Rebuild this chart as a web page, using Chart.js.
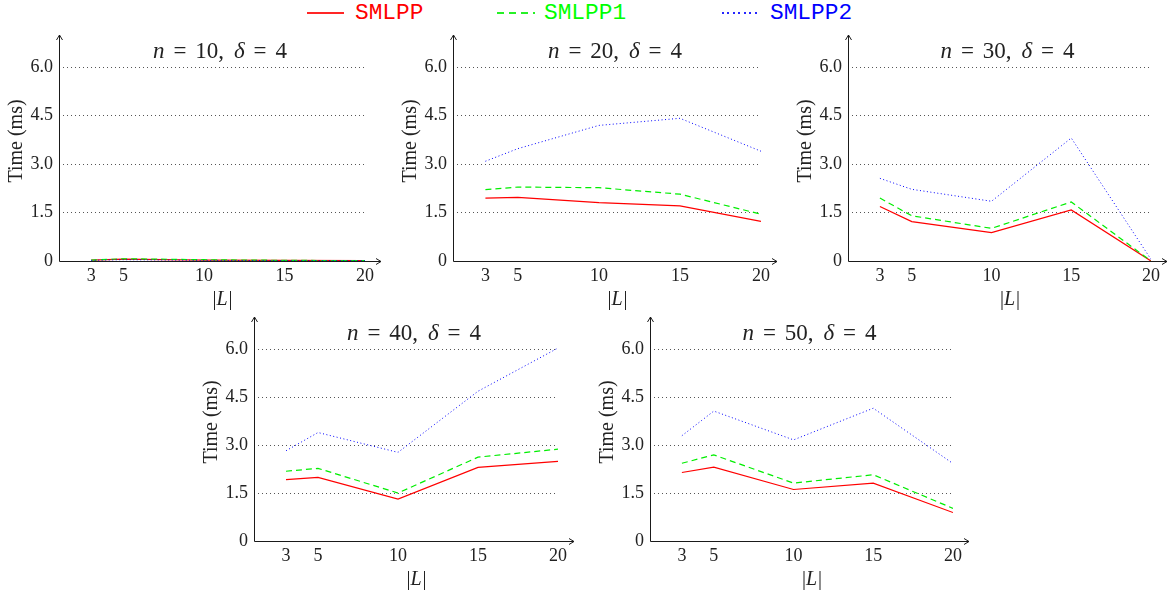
<!DOCTYPE html>
<html><head><meta charset="utf-8">
<script src="https://cdn.jsdelivr.net/npm/chart.js@4.4.0/dist/chart.umd.min.js"></script>
<style>
html,body{margin:0;padding:0;background:#fff;width:1172px;height:592px;overflow:hidden;position:relative;}
canvas.pc{position:absolute;left:0;top:0;}
.lt{position:absolute;top:0;font-family:"Liberation Mono",monospace;font-size:22.8px;line-height:27px;white-space:nowrap;}
.ls{position:absolute;top:12px;height:2px;opacity:0.85;}
</style></head><body>
<div id="legend"></div>
<canvas class="pc" id="c1" width="1172" height="592"></canvas>
<canvas class="pc" id="c2" width="1172" height="592"></canvas>
<canvas class="pc" id="c3" width="1172" height="592"></canvas>
<canvas class="pc" id="c4" width="1172" height="592"></canvas>
<canvas class="pc" id="c5" width="1172" height="592"></canvas>
<script>
// ---- data ----
const listSizes = [3, 5, 10, 15, 20];          // |L|
const nValues = [10, 20, 30, 40, 50];
const deltaValue = 4;
const seriesNames = ['SMLPP', 'SMLPP1', 'SMLPP2'];
const yTicks = [0, 1.5, 3, 4.5, 6];
const yTickLabels = ['0', '1.5', '3.0', '4.5', '6.0'];

const n10_SMLPP  = [0.03, 0.06, 0.03, 0.02, 0.01];
const n10_SMLPP1 = [0.03, 0.07, 0.04, 0.02, 0.01];
const n10_SMLPP2 = [0.02, 0.04, 0.02, 0.01, 0.01];

const n20_SMLPP  = [1.95, 1.97, 1.81, 1.71, 1.23];
const n20_SMLPP1 = [2.21, 2.29, 2.27, 2.07, 1.45];
const n20_SMLPP2 = [3.09, 3.48, 4.20, 4.42, 3.40];

const n30_SMLPP  = [1.69, 1.22, 0.88, 1.58, 0.00];
const n30_SMLPP1 = [1.95, 1.40, 1.01, 1.83, 0.00];
const n30_SMLPP2 = [2.56, 2.22, 1.85, 3.81, 0.05];

const n40_SMLPP  = [1.92, 1.99, 1.31, 2.30, 2.49];
const n40_SMLPP1 = [2.18, 2.27, 1.50, 2.62, 2.87];
const n40_SMLPP2 = [2.82, 3.39, 2.77, 4.68, 6.03];

const n50_SMLPP  = [2.14, 2.31, 1.61, 1.81, 0.89];
const n50_SMLPP1 = [2.43, 2.69, 1.81, 2.07, 1.02];
const n50_SMLPP2 = [3.29, 4.06, 3.16, 4.15, 2.42];

// ---- styles ----
const seriesColors = ['#ff0000', '#00ee00', '#0000ff'];
const seriesTextColors = ['#ff0000', '#00ff00', '#0000ff'];
const seriesDash = [[], [6, 4], [1, 2.5]];
const legendDash = [[], [7, 5], [2, 3.5]];
const seriesWidth = [1.2, 1.2, 1];

// ---- legend ----
const legendEl = document.getElementById('legend');
const legendLine = [[307, 344], [497, 535], [722, 757]];
const legendText = [355, 544, 770];
seriesNames.forEach((name, i) => {
  const [x0, x1] = legendLine[i];
  const s = document.createElement('div');
  s.className = 'ls';
  s.style.left = x0 + 'px';
  s.style.width = (x1 - x0) + 'px';
  const col = seriesColors[i];
  if (legendDash[i].length) {
    const on = legendDash[i][0], per = legendDash[i][0] + legendDash[i][1];
    s.style.background = `repeating-linear-gradient(to right, ${col} 0px, ${col} ${on}px, transparent ${on}px, transparent ${per}px)`;
  } else {
    s.style.background = col;
  }
  legendEl.appendChild(s);
  const t = document.createElement('div');
  t.className = 'lt';
  t.style.left = legendText[i] + 'px';
  t.style.color = seriesTextColors[i];
  t.textContent = name;
  legendEl.appendChild(t);
});

// ---- decoration plugin: axes with arrows, titles, axis labels ----
const ARROW_EXT = 16;
const decor = {
  id: 'decor',
  afterDraw(chart, args, opts) {
    const { ctx, chartArea: ca } = chart;
    const L = ca.left, R = ca.right, T = ca.top, B = ca.bottom;
    const bx = Math.floor(L) + 0.5, by = Math.floor(B) + 0.5;
    const tipX = R + ARROW_EXT;
    ctx.save();
    ctx.strokeStyle = '#1a1a1a';
    ctx.lineWidth = 1;
    ctx.setLineDash([]);
    ctx.beginPath();
    ctx.moveTo(bx, by); ctx.lineTo(tipX, by);
    ctx.moveTo(tipX - 5, by - 3); ctx.lineTo(tipX, by); ctx.lineTo(tipX - 5, by + 3);
    ctx.moveTo(bx, by); ctx.lineTo(bx, T);
    ctx.moveTo(bx - 3, T + 5); ctx.lineTo(bx, T); ctx.lineTo(bx + 3, T + 5);
    ctx.stroke();

    ctx.fillStyle = '#222';
    // title: n = .., δ = 4
    const fs = 23;
    const fN = fs + 'px "Liberation Serif"';
    const fI = 'italic ' + fs + 'px "Liberation Serif"';
    const pieces = [
      { t: 'n', f: fI }, { g: 1 }, { t: '=', f: fN }, { g: 1 }, { t: String(opts.n) + ',', f: fN }, { g: 1.1 },
      { t: 'δ', f: fI }, { g: 1 }, { t: '=', f: fN }, { g: 1 }, { t: String(opts.delta), f: fN }
    ];
    let glyphW = 0, gapW = 0;
    pieces.forEach(p => { if (p.t) { ctx.font = p.f; p.w = ctx.measureText(p.t).width; glyphW += p.w; } else gapW += p.g; });
    const targetW = 134;
    const unit = Math.max(3, (targetW - glyphW) / gapW);
    const totalW = glyphW + unit * gapW;
    let x = (L + tipX) / 2 - totalW / 2;
    const baseY = T + 23;
    ctx.textBaseline = 'alphabetic';
    ctx.textAlign = 'left';
    pieces.forEach(p => {
      if (p.t) { ctx.font = p.f; ctx.fillText(p.t, x, baseY); x += p.w; }
      else x += unit * p.g;
    });

    // x label |L|
    ctx.font = '20px "Liberation Serif"';
    const wBar = ctx.measureText('|').width;
    ctx.font = 'italic 20px "Liberation Serif"';
    const wL = ctx.measureText('L').width;
    let lx = (L + tipX) / 2 + 2 - (2 * wBar + wL) / 2;
    const ly = B + 44;
    ctx.font = '20px "Liberation Serif"'; ctx.fillText('|', lx, ly); lx += wBar;
    ctx.font = 'italic 20px "Liberation Serif"'; ctx.fillText('L', lx, ly); lx += wL + 1;
    ctx.font = '20px "Liberation Serif"'; ctx.fillText('|', lx, ly);

    // y label
    ctx.save();
    ctx.translate(L - 42, (T + B) / 2 - 7);
    ctx.rotate(-Math.PI / 2);
    ctx.textAlign = 'center';
    ctx.textBaseline = 'middle';
    ctx.font = '20px "Liberation Serif"';
    ctx.fillText('Time (ms)', 0, 0);
    ctx.restore();
    ctx.restore();
  }
};

function makePanel(id, target, n, a, b, c) {
  const pad = { left: target.L - 40, right: 1172 - target.R, top: target.T, bottom: 592 - target.B - 25 };
  const sets = [a, b, c].map((vals, i) => ({
    label: seriesNames[i],
    data: listSizes.map((x, k) => ({ x: x, y: vals[k] })),
    borderColor: seriesColors[i],
    borderWidth: seriesWidth[i],
    borderDash: seriesDash[i],
    pointRadius: 0,
    tension: 0,
    fill: false,
    order: 3 - i
  }));
  const chart = new Chart(document.getElementById(id), {
    type: 'line',
    data: { datasets: sets },
    options: {
      responsive: false,
      animation: false,
      events: [],
      layout: { padding: pad },
      plugins: { legend: { display: false }, tooltip: { enabled: false }, title: { display: false },
                 decor: { n: n, delta: deltaValue } },
      scales: {
        x: {
          type: 'linear', min: 1, max: 20,
          afterBuildTicks: s => { s.ticks = listSizes.map(v => ({ value: v })); },
          ticks: { font: { family: '"Liberation Serif"', size: 18 }, color: '#222', padding: 4,
                   maxRotation: 0, autoSkip: false, callback: v => String(v) },
          grid: { display: false, drawTicks: false },
          border: { display: false }
        },
        y: {
          type: 'linear', min: 0, max: 7,
          afterBuildTicks: s => { s.ticks = yTicks.map(v => ({ value: v })); },
          ticks: { font: { family: '"Liberation Serif"', size: 18 }, color: '#222', padding: 6,
                   callback: v => yTickLabels[yTicks.indexOf(v)] },
          grid: { drawTicks: false, lineWidth: 1,
                  color: c => (c.tick && c.tick.value === 0) ? 'rgba(0,0,0,0)' : '#555' },
          border: { display: false, dash: [1, 3] }
        }
      }
    },
    plugins: [decor]
  });
  const ca = chart.chartArea;
  pad.left += target.L - ca.left;
  pad.right += ca.right - target.R;
  pad.top += target.T - ca.top;
  pad.bottom += ca.bottom - target.B;
  chart.options.layout.padding = pad;
  chart.update('none');
  return chart;
}

makePanel('c1', { L: 59,  R: 365,  T: 35,  B: 261 }, nValues[0], n10_SMLPP, n10_SMLPP1, n10_SMLPP2);
makePanel('c2', { L: 453, R: 761,  T: 35,  B: 261 }, nValues[1], n20_SMLPP, n20_SMLPP1, n20_SMLPP2);
makePanel('c3', { L: 848, R: 1151, T: 35,  B: 261 }, nValues[2], n30_SMLPP, n30_SMLPP1, n30_SMLPP2);
makePanel('c4', { L: 254, R: 558,  T: 317, B: 541 }, nValues[3], n40_SMLPP, n40_SMLPP1, n40_SMLPP2);
makePanel('c5', { L: 650, R: 953,  T: 317, B: 541 }, nValues[4], n50_SMLPP, n50_SMLPP1, n50_SMLPP2);
</script>
</body></html>
